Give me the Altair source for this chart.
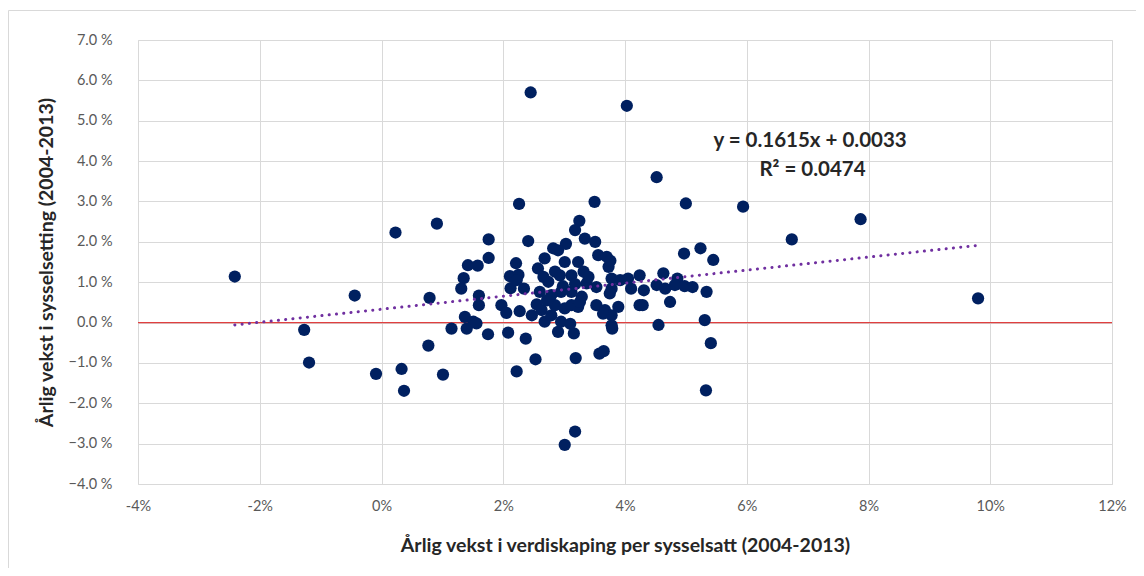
import altair as alt
import pandas as pd

# Annual growth in value added per employee (%, x) and in employment (%, y), 2004-2013
x_vals = [
    -2.41, -1.27, -1.19, -0.44, -0.09, 0.23, 0.33, 0.37, 0.91, 0.79, 0.77, 1.01, 1.15,
    2.45, 4.03, 4.52, 2.26, 3.50, 3.25, 3.18, 5.00, 5.94, 6.74, 7.87, 9.80, 4.97, 5.24,
    5.45, 5.41, 5.33, 5.31, 5.34, 4.55, 3.01, 3.18, 3.19, 3.58, 3.65, 2.22, 2.53, 2.37,
    1.76, 1.76, 1.42, 1.58, 1.35, 1.31, 1.60, 1.60, 1.37, 1.51, 1.40, 1.56, 1.75, 1.97,
    2.05, 2.41, 2.21, 2.11, 2.25, 2.12, 2.34, 2.27, 2.08, 2.22, 2.47,
    2.55, 2.63, 2.68, 2.79, 2.90, 3.16, 2.57, 2.68, 2.82, 3.03, 2.74, 2.93, 3.01, 2.60,
    2.79, 2.95, 2.85, 3.01, 2.95, 2.90, 2.85, 2.66, 2.98, 2.72,
    3.34, 3.51, 3.56, 3.70, 3.73, 3.23, 3.12, 3.32, 3.37, 3.12, 3.29, 3.12, 3.23, 3.53,
    3.67, 3.78, 3.78, 3.79, 3.89, 3.78, 3.92, 3.78, 4.05, 4.10, 3.10, 4.24, 4.24, 3.40,
    3.76, 3.53, 3.75, 3.64, 3.18, 3.26,
    4.31, 4.29, 4.52, 4.63, 4.86, 4.66, 4.82, 4.98, 5.11, 4.74,
]
y_vals = [
    1.14, -0.18, -0.99, 0.67, -1.27, 2.23, -1.15, -1.69, 2.45, 0.61, -0.57, -1.29, -0.15,
    5.70, 5.37, 3.60, 2.94, 2.99, 2.52, 2.29, 2.95, 2.87, 2.06, 2.56, 0.60, 1.71, 1.84,
    1.55, -0.51, -1.68, 0.06, 0.76, -0.06, -3.03, -2.70, -0.88, -0.77, -0.71, -1.21, -0.91, -0.40,
    2.06, 1.60, 1.42, 1.41, 1.10, 0.84, 0.67, 0.43, 0.14, 0.02, -0.15, -0.02, -0.29, 0.43,
    0.24, 2.02, 1.47, 1.15, 1.18, 0.85, 0.84, 0.28, -0.25, 1.05, 0.18,
    0.45, 0.31, 0.02, 0.18, -0.23, -0.27, 1.34, 1.59, 1.84, 1.95, 1.01, 1.17, 1.50, 0.76,
    0.68, 0.76, 0.43, 0.35, 0.02, 1.79, 1.26, 1.13, 0.90, 0.55,
    2.08, 2.00, 1.67, 1.63, 1.38, 1.50, 1.17, 1.26, 0.97, 0.76, 0.64, 0.43, 0.39, 0.43,
    0.31, 0.18, -0.07, -0.15, 0.39, 1.09, 1.05, 0.84, 1.09, 0.84, -0.03, 0.43, 1.17, 1.13,
    1.53, 0.88, 0.72, 0.22, 0.95, 0.51,
    0.80, 0.43, 0.93, 1.22, 1.09, 0.84, 0.93, 0.90, 0.88, 0.51,
]

# Trend line as stated in the chart: y = 0.1615x + 0.0033
slope = 0.1615
intercept_pct = 0.33
trend_x = [min(x_vals), max(x_vals)]
trend_y = [slope * v + intercept_pct for v in trend_x]

ann_text = ["y = 0.1615x + 0.0033", "R² = 0.0474"]
ann_x = [7.04, 7.08]
ann_y = [4.50, 3.78]

x_ticks = [-4, -2, 0, 2, 4, 6, 8, 10, 12]
y_ticks = [-4, -3, -2, -1, 0, 1, 2, 3, 4, 5, 6, 7]

FONT = "Lato"
W, H = 974, 444

pts = pd.DataFrame({"x": x_vals, "y": y_vals})
trend = pd.DataFrame({"x": trend_x, "y": trend_y})
ann = pd.DataFrame({"x": ann_x, "y": ann_y, "t": ann_text})

xscale = alt.Scale(domain=[-4, 12], nice=False, zero=False)
yscale = alt.Scale(domain=[-4, 7], nice=False, zero=False)

xaxis = alt.Axis(
    values=x_ticks, labelExpr="datum.value + '%'", title="Årlig vekst i verdiskaping per sysselsatt (2004-2013)",
    grid=True, gridColor="#d9d9d9", domain=False, ticks=False, labelFont=FONT, labelFontSize=14.5,
    labelColor="#595959", labelPadding=15, labelFlush=False, labelOverlap=False,
    titleFont=FONT, titleFontSize=19.5, titleFontWeight="bold",
    titleColor="#262626", titleY=61, titleBaseline="middle",
)
yaxis = alt.Axis(
    values=y_ticks, labelExpr="format(datum.value, '.1f') + ' %'", title="Årlig vekst i sysselsetting (2004-2013)",
    grid=True, gridColor="#d9d9d9", domain=False, ticks=False, labelFont=FONT, labelFontSize=14.5,
    labelColor="#595959", labelPadding=26, labelFlush=False, labelOverlap=False,
    titleFont=FONT, titleFontSize=19.5, titleFontWeight="bold",
    titleColor="#262626", titleX=-92, titleY=H / 2, titleBaseline="middle", titleAngle=270,
)

border = alt.Chart(pd.DataFrame({"a": [0]})).mark_rect(
    fill="transparent", stroke="#d9d9d9", strokeWidth=1
).encode(x=alt.value(-129.5), x2=alt.value(W + 60), y=alt.value(-29.5), y2=alt.value(H + 120))

base = alt.Chart(pts).mark_circle(size=150, color="#002060", opacity=1).encode(
    x=alt.X("x:Q", scale=xscale, axis=xaxis),
    y=alt.Y("y:Q", scale=yscale, axis=yaxis),
)

zero = alt.Chart(pd.DataFrame({"y": [0]})).mark_rule(color="#e04040", strokeWidth=1.3).encode(
    y=alt.Y("y:Q", scale=yscale)
)

trend_line = alt.Chart(trend).mark_line(
    color="#7030a0", strokeWidth=3, strokeDash=[0.1, 7.2], strokeCap="round"
).encode(x=alt.X("x:Q", scale=xscale), y=alt.Y("y:Q", scale=yscale))

ann_text_mark = alt.Chart(ann).mark_text(
    font=FONT, fontSize=20.5, fontWeight="bold", color="#262626", align="center", baseline="middle"
).encode(x=alt.X("x:Q", scale=xscale), y=alt.Y("y:Q", scale=yscale), text="t:N")

chart = alt.layer(border, zero, base, trend_line, ann_text_mark).properties(
    width=W, height=H, autosize=alt.AutoSizeParams(type="none"),
    padding={"left": 130, "top": 32, "right": 24, "bottom": 84},
).configure_view(stroke="transparent").configure(background="white")

chart.save("out.html", embed_options={"renderer": "svg", "actions": False})
